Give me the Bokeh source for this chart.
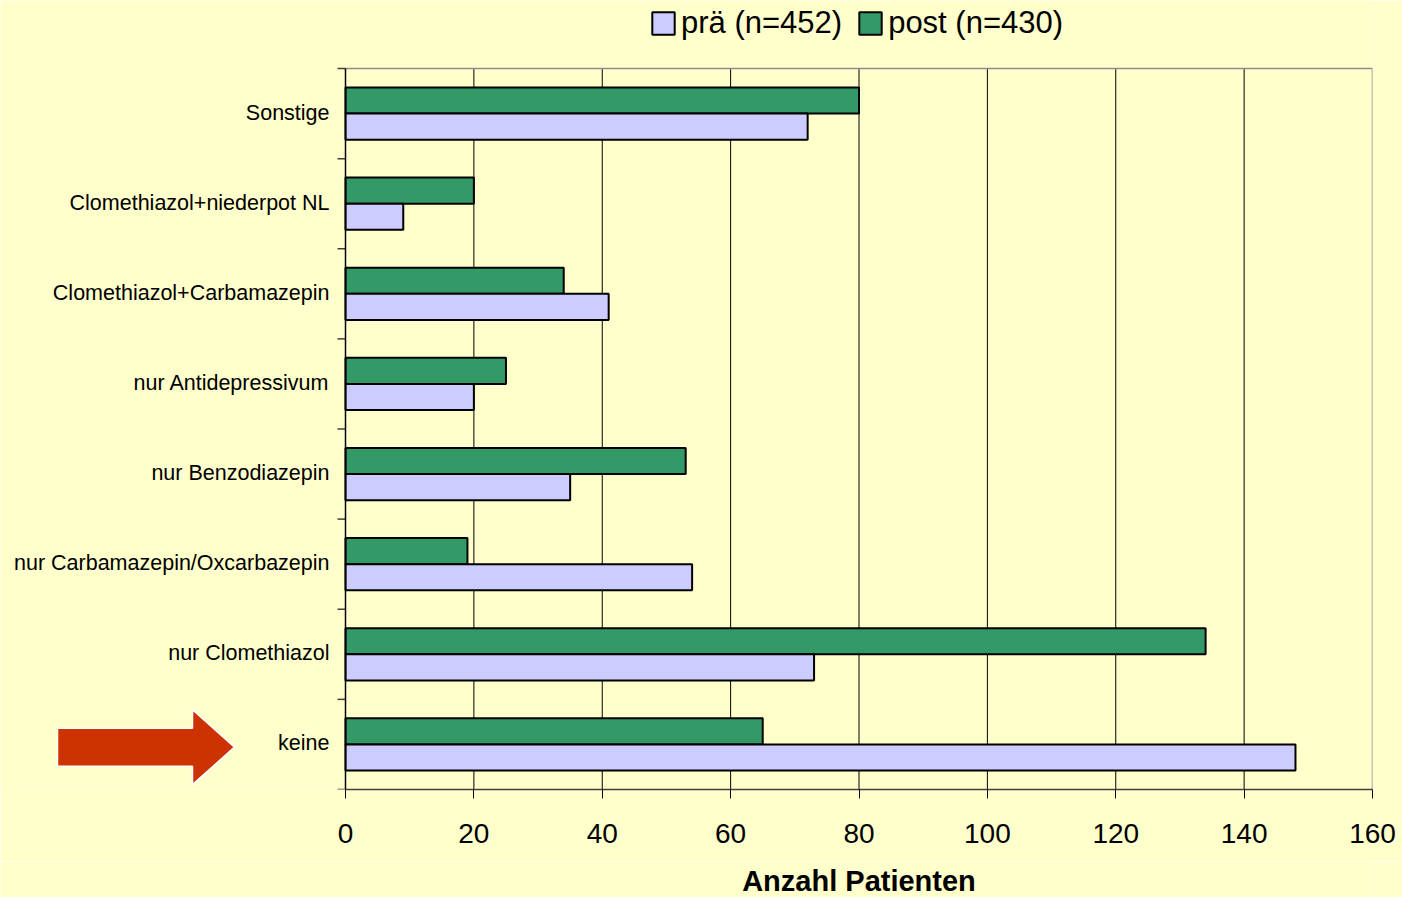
from bokeh.plotting import figure
from bokeh.layouts import column
from bokeh.models import (Range1d, FixedTicker, Legend, LegendItem,
                          ColumnDataSource)
from bokeh.core.properties import value
from bokeh.embed import file_html
from bokeh.resources import INLINE

# Medication groups, listed top to bottom
categories = [
    "Sonstige",
    "Clomethiazol+niederpot NL",
    "Clomethiazol+Carbamazepin",
    "nur Antidepressivum",
    "nur Benzodiazepin",
    "nur Carbamazepin/Oxcarbazepin",
    "nur Clomethiazol",
    "keine",
]
pra = [72, 9, 41, 20, 35, 54, 73, 148]     # prä (n=452)
post = [80, 20, 34, 25, 53, 19, 134, 65]   # post (n=430)
x_ticks = [0, 20, 40, 60, 80, 100, 120, 140, 160]
series_labels = ["prä (n=452)", "post (n=430)"]
x_title = "Anzahl Patienten"

BG = "#FFFFCC"
FONT = "Liberation Sans"

# page geometry (pixels)
W, H = 1402, 897
TITLE_H = 36                      # strip holding the value-axis title
MAIN_H = H - TITLE_H
AREA_L, AREA_R, AREA_T, AREA_B = 345, 1372, 68, 789
x_max = x_ticks[-1]
n = len(categories)
ux = x_max / (AREA_R - AREA_L)    # data units per pixel, x
uy = n / (AREA_B - AREA_T)        # data units per pixel, y

centers = [n - i - 0.5 for i in range(n)]
bounds = list(range(n + 1))
bar_h = 0.29

src = ColumnDataSource(dict(
    cat=categories,
    pra=pra,
    post=post,
    y=centers,
    y_pra=[c - bar_h / 2 for c in centers],
    y_post=[c + bar_h / 2 for c in centers],
))

# the frame covers the label column on the left and the legend strip on top
p = figure(width=W, height=MAIN_H,
           x_range=Range1d(-AREA_L * ux, x_max),
           y_range=Range1d(0, n + AREA_T * uy),
           y_axis_location=None,
           output_backend="svg", toolbar_location=None,
           min_border_left=0, min_border_right=W - AREA_R,
           min_border_top=0, min_border_bottom=MAIN_H - AREA_B,
           background_fill_color=BG, border_fill_color=BG)
p.outline_line_color = None
p.xgrid.visible = False
p.ygrid.visible = False

# vertical grid lines
p.segment(x0=x_ticks[1:-1], x1=x_ticks[1:-1], y0=0, y1=n,
          line_color="black", line_width=1)
# top and right border of the plotting area
p.segment(x0=[0, x_max], x1=[x_max, x_max], y0=[n, n], y1=[n, 0],
          line_color="#8C8C8C", line_width=1.5)

r_post = p.hbar(y="y_post", left=0, right="post", height=bar_h, source=src,
                fill_color="#339966", line_color="black", line_width=2)
r_pra = p.hbar(y="y_pra", left=0, right="pra", height=bar_h, source=src,
               fill_color="#CCCCFF", line_color="black", line_width=2)

# category axis: line, boundary ticks and labels
p.segment(x0=[0] * len(bounds), x1=[-8 * ux] * len(bounds), y0=bounds, y1=bounds,
          line_color="#404040", line_width=1.5)
p.segment(x0=[0], x1=[0], y0=[0], y1=[n], line_color="black", line_width=1.5)
p.text(x=0, y="y", text="cat", source=src, x_offset=-16, y_offset=-1,
       text_align="right", text_baseline="middle",
       text_font=value(FONT), text_font_size="21.5px", text_color="black")

# value axis
xa = p.xaxis[0]
xa.ticker = FixedTicker(ticks=x_ticks)
xa.bounds = (0, x_max)
xa.axis_line_color = "#404040"
xa.axis_line_width = 1.5
xa.major_tick_out = 9
xa.major_tick_in = 0
xa.major_tick_line_color = "black"
xa.minor_tick_line_color = None
xa.major_label_text_font = FONT
xa.major_label_text_font_size = "28px"
xa.major_label_text_color = "black"
xa.major_label_standoff = 25

# highlight arrow pointing at "keine"
ay = centers[-1] - 0.03
ax_tail, ax_base, ax_tip = -288 * ux, -153 * ux, -111 * ux
shaft, head = 19 * uy, 37.5 * uy
p.patch(x=[ax_tail, ax_base, ax_base, ax_tip, ax_base, ax_base, ax_tail],
        y=[ay + shaft, ay + shaft, ay + head, ay, ay - head, ay - shaft, ay - shaft],
        fill_color="#CC3300", line_color="white", line_width=1.5)

# legend in the strip above the plotting area
legend = Legend(items=[LegendItem(label=series_labels[0], renderers=[r_pra]),
                       LegendItem(label=series_labels[1], renderers=[r_post])],
                orientation="horizontal", location=(649, 748),
                label_text_font=FONT, label_text_font_size="31px",
                label_text_color="black",
                glyph_width=28, glyph_height=28, label_standoff=4,
                spacing=14, padding=0, margin=0,
                background_fill_alpha=0, border_line_color=None)
p.add_layout(legend)

# strip below with the value-axis title, sharing the x scale
t = figure(width=W, height=TITLE_H, x_range=p.x_range,
           y_range=Range1d(0, TITLE_H),
           x_axis_location=None, y_axis_location=None,
           output_backend="svg", toolbar_location=None,
           min_border_left=0, min_border_right=W - AREA_R,
           min_border_top=0, min_border_bottom=0,
           background_fill_color=BG, border_fill_color=BG)
t.outline_line_color = None
t.xgrid.visible = False
t.ygrid.visible = False
t.text(x=[x_max / 2], y=[17], text=[x_title],
       text_align="center", text_baseline="middle",
       text_font=value(FONT), text_font_size="29px", text_font_style="bold",
       text_color="black")

layout = column(p, t, spacing=0)
open("out.html", "w").write(file_html(layout, INLINE))
